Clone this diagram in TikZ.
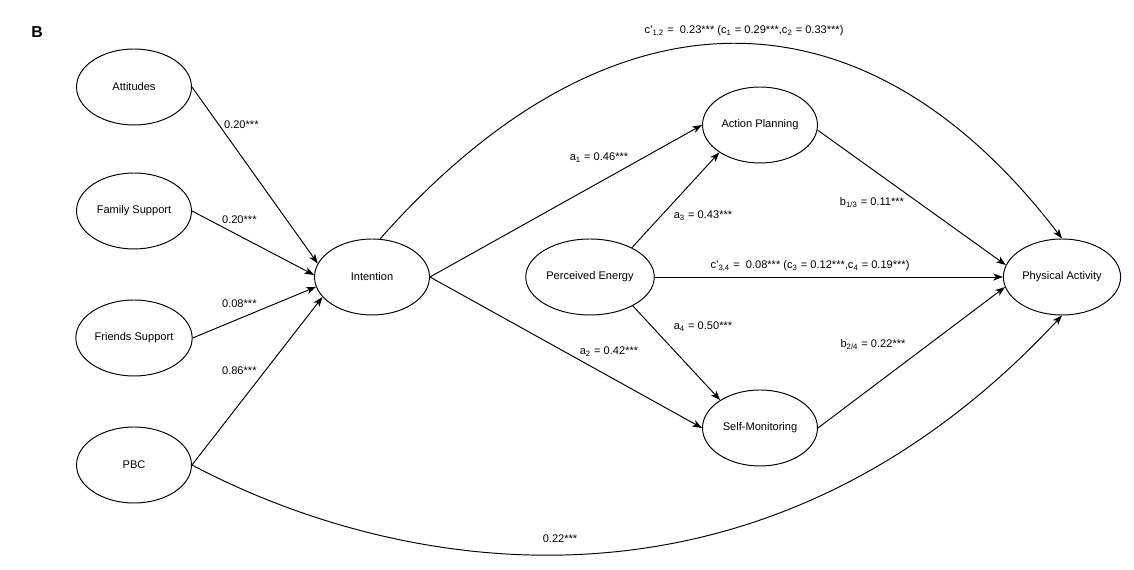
\documentclass[tikz,border=0pt]{standalone}
\usepackage{fontspec}
\setmainfont{Liberation Sans}
\usepackage{tikz}
\usetikzlibrary{arrows.meta, shapes.geometric}
\tikzset{
>={Stealth[length=5.5pt,width=4pt,inset=1.5pt]}, % draw.io like heads
every node/.style={inner sep=1pt},
var/.style={draw, ellipse, line width=0.55pt, minimum width=2.3cm, minimum height=1.52cm, font=\fontsize{6.3}{7.5}\selectfont},
path/.style={->, line width=0.55pt},
coef/.style={font=\fontsize{6.3}{7.5}\selectfont},
}

\begin{document}
\begin{tikzpicture}[x=0.02cm, y=-0.02cm]
  \useasboundingbox (0,0) rectangle (1134,570);
  \node[font=\fontsize{9}{10}\selectfont\bfseries] (lab) at (37,32) {B};
  % predictors
  \node[var] (att) at (134,87) {Attitudes};
  \node[var] (fam) at (134,211) {Family Support};
  \node[var] (fri) at (134,338) {Friends Support};
  \node[var] (pbc) at (134,465) {PBC};
  % mediators
  \node[var] (int) at (372,277) {Intention};
  \node[var] (pe) at (590,277) {Perceived Energy};
  \node[var] (ap) at (760,125) {Action Planning};
  \node[var] (sm) at (760,428) {Self-Monitoring};
  \node[var] (pa) at (1062,277) {Physical Activity};
  % paths
  \draw[path] (att.east) -- (int.166);
  \draw[path] (fam.east) -- (int.178);
  \draw[path] (fri.east) -- (int.190);
  \draw[path] (pbc.east) -- (int.202);
  \draw[path] (int.east) -- (ap.west);
  \draw[path] (int.east) -- (sm.west);
  \draw[path] (pe.35) -- (ap.214);
  \draw[path] (pe.326) -- (sm.145);
  \draw[path] (pe.east) -- (pa.west);
  \draw[path] (ap.355) -- (pa.168);
  \draw[path] (sm.east) -- (pa.190);
  \draw[path] (int.78) .. controls (610,-21) and (864,-21) .. (pa.north);
  \draw[path] (pbc.east) .. controls (400,575) and (760,640) .. (pa.south);
  % coefficients
  \node[coef, anchor=west] (catt) at (222,125) {0.20***};
  \node[coef, anchor=west] (cfam) at (220,220) {0.20***};
  \node[coef, anchor=west] (cfri) at (220,304) {0.08***};
  \node[coef, anchor=west] (cpbc) at (220,371) {0.86***};
  \node[coef] (ca1) at (599,158) {a\textsubscript{1} = 0.46***};
  \node[coef] (ca2) at (609,352) {a\textsubscript{2} = 0.42***};
  \node[coef] (ca3) at (703,216) {a\textsubscript{3} = 0.43***};
  \node[coef] (ca4) at (703,327) {a\textsubscript{4} = 0.50***};
  \node[coef] (cb13) at (872,203) {b\textsubscript{1/3} = 0.11***};
  \node[coef] (cb24) at (873,345) {b\textsubscript{2/4} = 0.22***};
  \node[coef] (cc34) at (810,266) {c'\textsubscript{3,4} =\ \ 0.08*** (c\textsubscript{3} = 0.12***,c\textsubscript{4} = 0.19***)};
  \node[coef] (cc12) at (744,31) {c'\textsubscript{1,2} =\ \ 0.23*** (c\textsubscript{1} = 0.29***,c\textsubscript{2} = 0.33***)};
  \node[coef] (cpa) at (560,539) {0.22***};
\end{tikzpicture}
\end{document}
